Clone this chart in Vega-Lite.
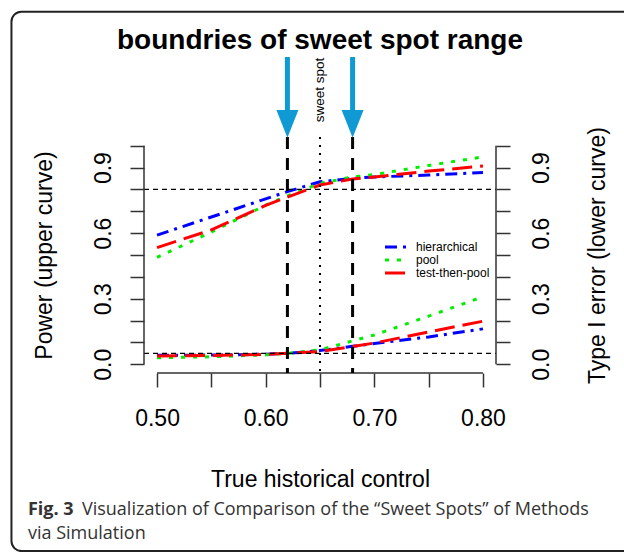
{
  "$schema": "https://vega.github.io/schema/vega-lite/v6.json",
  "width": 352,
  "height": 236,
  "autosize": {"type": "none"},
  "padding": {"left": 144, "top": 137, "right": 128, "bottom": 179},
  "background": "white",
  "config": {"view": {"stroke": null}, "font": "Liberation Sans"},
  "datasets": {
    "curves": [
      {"x": 0.50, "method": "hierarchical", "curve": "power", "value": 0.591},
      {"x": 0.55, "method": "hierarchical", "curve": "power", "value": 0.674},
      {"x": 0.60, "method": "hierarchical", "curve": "power", "value": 0.757},
      {"x": 0.62, "method": "hierarchical", "curve": "power", "value": 0.790},
      {"x": 0.65, "method": "hierarchical", "curve": "power", "value": 0.835},
      {"x": 0.68, "method": "hierarchical", "curve": "power", "value": 0.851},
      {"x": 0.70, "method": "hierarchical", "curve": "power", "value": 0.857},
      {"x": 0.75, "method": "hierarchical", "curve": "power", "value": 0.866},
      {"x": 0.80, "method": "hierarchical", "curve": "power", "value": 0.877},
      {"x": 0.50, "method": "pool", "curve": "power", "value": 0.489},
      {"x": 0.55, "method": "pool", "curve": "power", "value": 0.605},
      {"x": 0.60, "method": "pool", "curve": "power", "value": 0.728},
      {"x": 0.62, "method": "pool", "curve": "power", "value": 0.770},
      {"x": 0.65, "method": "pool", "curve": "power", "value": 0.828},
      {"x": 0.68, "method": "pool", "curve": "power", "value": 0.857},
      {"x": 0.70, "method": "pool", "curve": "power", "value": 0.868},
      {"x": 0.75, "method": "pool", "curve": "power", "value": 0.910},
      {"x": 0.80, "method": "pool", "curve": "power", "value": 0.949},
      {"x": 0.50, "method": "test-then-pool", "curve": "power", "value": 0.534},
      {"x": 0.55, "method": "test-then-pool", "curve": "power", "value": 0.615},
      {"x": 0.60, "method": "test-then-pool", "curve": "power", "value": 0.727},
      {"x": 0.62, "method": "test-then-pool", "curve": "power", "value": 0.765},
      {"x": 0.65, "method": "test-then-pool", "curve": "power", "value": 0.820},
      {"x": 0.68, "method": "test-then-pool", "curve": "power", "value": 0.848},
      {"x": 0.70, "method": "test-then-pool", "curve": "power", "value": 0.857},
      {"x": 0.75, "method": "test-then-pool", "curve": "power", "value": 0.884},
      {"x": 0.80, "method": "test-then-pool", "curve": "power", "value": 0.907},
      {"x": 0.50, "method": "hierarchical", "curve": "type1", "value": 0.041},
      {"x": 0.55, "method": "hierarchical", "curve": "type1", "value": 0.042},
      {"x": 0.60, "method": "hierarchical", "curve": "type1", "value": 0.046},
      {"x": 0.62, "method": "hierarchical", "curve": "type1", "value": 0.050},
      {"x": 0.65, "method": "hierarchical", "curve": "type1", "value": 0.063},
      {"x": 0.68, "method": "hierarchical", "curve": "type1", "value": 0.082},
      {"x": 0.70, "method": "hierarchical", "curve": "type1", "value": 0.095},
      {"x": 0.75, "method": "hierarchical", "curve": "type1", "value": 0.125},
      {"x": 0.80, "method": "hierarchical", "curve": "type1", "value": 0.162},
      {"x": 0.50, "method": "pool", "curve": "type1", "value": 0.030},
      {"x": 0.55, "method": "pool", "curve": "type1", "value": 0.034},
      {"x": 0.60, "method": "pool", "curve": "type1", "value": 0.043},
      {"x": 0.62, "method": "pool", "curve": "type1", "value": 0.050},
      {"x": 0.65, "method": "pool", "curve": "type1", "value": 0.066},
      {"x": 0.68, "method": "pool", "curve": "type1", "value": 0.107},
      {"x": 0.70, "method": "pool", "curve": "type1", "value": 0.134},
      {"x": 0.75, "method": "pool", "curve": "type1", "value": 0.220},
      {"x": 0.80, "method": "pool", "curve": "type1", "value": 0.309},
      {"x": 0.50, "method": "test-then-pool", "curve": "type1", "value": 0.038},
      {"x": 0.55, "method": "test-then-pool", "curve": "type1", "value": 0.040},
      {"x": 0.60, "method": "test-then-pool", "curve": "type1", "value": 0.045},
      {"x": 0.62, "method": "test-then-pool", "curve": "type1", "value": 0.050},
      {"x": 0.65, "method": "test-then-pool", "curve": "type1", "value": 0.058},
      {"x": 0.68, "method": "test-then-pool", "curve": "type1", "value": 0.081},
      {"x": 0.70, "method": "test-then-pool", "curve": "type1", "value": 0.097},
      {"x": 0.75, "method": "test-then-pool", "curve": "type1", "value": 0.148},
      {"x": 0.80, "method": "test-then-pool", "curve": "type1", "value": 0.197}
    ],
    "bounds": [{"b": 0.62}, {"b": 0.68}],
    "targets": [{"t": 0.8}, {"t": 0.05}]
  },
  "layer": [
    {
      "data": {"values": [{}]},
      "mark": {"type": "rect", "filled": false, "stroke": "#222222", "strokeWidth": 2, "cornerRadius": 10},
      "encoding": {
        "x": {"datum": 0.366, "type": "quantitative", "scale": {"domain": [0.488, 0.812], "nice": false, "zero": false}, "axis": null},
        "x2": {"datum": 0.945},
        "y": {"datum": 1.6135, "type": "quantitative", "scale": {"domain": [-0.04, 1.04], "nice": false, "zero": false}, "axis": null},
        "y2": {"datum": -0.855}
      }
    },
    {
      "data": {"name": "curves"},
      "mark": {"type": "line", "strokeWidth": 3},
      "encoding": {
        "x": {
          "field": "x", "type": "quantitative",
          "scale": {"domain": [0.488, 0.812], "nice": false, "zero": false},
          "axis": {
            "orient": "bottom",
            "values": [0.5, 0.55, 0.6, 0.65, 0.7, 0.75, 0.8],
            "domain": false, "grid": false,
            "tickSize": 14, "tickWidth": 1.5, "tickColor": "#333333",
            "labelFont": "Liberation Sans", "labelFontSize": 23, "labelColor": "#000000",
            "labelPadding": 38, "labelBaseline": "alphabetic", "labelAlign": "center",
            "labelFlush": false, "labelOverlap": false, "labelBound": false,
            "labelExpr": "round(datum.value*100) % 10 == 0 ? format(datum.value, '.2f') : ''",
            "title": "True historical control",
            "titleFont": "Liberation Sans", "titleFontSize": 23, "titleFontWeight": "normal", "titleColor": "#000000",
            "titleX": 176, "titleY": 113, "titleBaseline": "alphabetic", "titleAlign": "center", "titleAngle": 0
          }
        },
        "y": {
          "field": "value", "type": "quantitative",
          "scale": {"domain": [-0.04, 1.04], "nice": false, "zero": false},
          "axis": {
            "orient": "left",
            "values": [0, 0.1, 0.2, 0.3, 0.4, 0.5, 0.6, 0.7, 0.8, 0.9, 1.0],
            "domain": false, "grid": false,
            "tickSize": 14, "tickWidth": 1.5, "tickColor": "#333333",
            "labelFont": "Liberation Sans", "labelFontSize": 23, "labelColor": "#000000",
            "labelAngle": 270, "labelPadding": 20, "labelBaseline": "alphabetic", "labelAlign": "center",
            "labelFlush": false, "labelOverlap": false, "labelBound": false,
            "labelExpr": "(round(datum.value*10) % 3 == 0 && datum.value < 0.95) ? format(datum.value, '.1f') : ''",
            "title": "Power (upper curve)",
            "titleFont": "Liberation Sans", "titleFontSize": 23, "titleFontWeight": "normal", "titleColor": "#000000",
            "titleAngle": 270, "titleX": -92.5, "titleY": 118, "titleBaseline": "alphabetic", "titleAlign": "center"
          }
        },
        "color": {
          "field": "method", "type": "nominal",
          "scale": {"domain": ["hierarchical", "pool", "test-then-pool"], "range": ["#0000ff", "#00ee00", "#ff0000"]},
          "legend": {
            "title": null, "orient": "none", "legendX": 245, "legendY": 103,
            "symbolType": "M-2,0L2,0", "symbolSize": 121, "symbolStrokeWidth": 3,
            "labelFont": "Liberation Sans", "labelFontSize": 12, "labelColor": "#000000",
            "labelOffset": 13, "rowPadding": 0, "padding": 0
          }
        },
        "strokeDash": {
          "field": "method", "type": "nominal",
          "scale": {"domain": ["hierarchical", "pool", "test-then-pool"], "range": [[12, 6, 3, 6], [4, 8], [20, 8]]},
          "legend": {
            "title": null, "orient": "none", "legendX": 245, "legendY": 103,
            "symbolType": "M-2,0L2,0", "symbolSize": 121, "symbolStrokeWidth": 3,
            "labelFont": "Liberation Sans", "labelFontSize": 12, "labelColor": "#000000",
            "labelOffset": 13, "rowPadding": 0, "padding": 0
          }
        },
        "detail": {"field": "curve"}
      }
    },
    {
      "data": {"name": "targets"},
      "mark": {"type": "rule", "color": "#000000", "strokeWidth": 1.2, "strokeDash": [5, 4]},
      "encoding": {
        "x": {"datum": 0.488, "type": "quantitative", "scale": {"domain": [0.488, 0.812], "nice": false, "zero": false}, "axis": null},
        "x2": {"datum": 0.812},
        "y": {
          "field": "t", "type": "quantitative",
          "scale": {"domain": [-0.04, 1.04], "nice": false, "zero": false},
          "axis": {
            "orient": "right",
            "values": [0, 0.1, 0.2, 0.3, 0.4, 0.5, 0.6, 0.7, 0.8, 0.9, 1.0],
            "domain": false, "grid": false,
            "tickSize": 14, "tickWidth": 1.5, "tickColor": "#333333",
            "labelFont": "Liberation Sans", "labelFontSize": 23, "labelColor": "#000000",
            "labelAngle": 270, "labelPadding": 38, "labelBaseline": "alphabetic", "labelAlign": "center",
            "labelFlush": false, "labelOverlap": false, "labelBound": false,
            "labelExpr": "(round(datum.value*10) % 3 == 0 && datum.value < 0.95) ? format(datum.value, '.1f') : ''",
            "title": "Type I error (lower curve)",
            "titleFont": "Liberation Sans", "titleFontSize": 23, "titleFontWeight": "normal", "titleColor": "#000000",
            "titleAngle": 270, "titleX": 108.5, "titleY": 118, "titleBaseline": "alphabetic", "titleAlign": "center"
          }
        }
      }
    },
    {
      "data": {"values": [{}]},
      "mark": {"type": "rule", "color": "#333333", "strokeWidth": 1.5},
      "encoding": {
        "x": {"datum": 0.488, "type": "quantitative", "scale": {"domain": [0.488, 0.812], "nice": false, "zero": false}, "axis": null},
        "y": {"datum": 0, "type": "quantitative", "scale": {"domain": [-0.04, 1.04], "nice": false, "zero": false}, "axis": null},
        "y2": {"datum": 1}
      }
    },
    {
      "data": {"values": [{}]},
      "mark": {"type": "rule", "color": "#333333", "strokeWidth": 1.5},
      "encoding": {
        "x": {"datum": 0.812, "type": "quantitative", "scale": {"domain": [0.488, 0.812], "nice": false, "zero": false}, "axis": null},
        "y": {"datum": 0, "type": "quantitative", "scale": {"domain": [-0.04, 1.04], "nice": false, "zero": false}, "axis": null},
        "y2": {"datum": 1}
      }
    },
    {
      "data": {"values": [{}]},
      "mark": {"type": "rule", "color": "#333333", "strokeWidth": 1.5},
      "encoding": {
        "x": {"datum": 0.5, "type": "quantitative", "scale": {"domain": [0.488, 0.812], "nice": false, "zero": false}, "axis": null},
        "x2": {"datum": 0.8},
        "y": {"datum": -0.04, "type": "quantitative", "scale": {"domain": [-0.04, 1.04], "nice": false, "zero": false}, "axis": null}
      }
    },
    {
      "data": {"name": "bounds"},
      "mark": {"type": "rule", "color": "#000000", "strokeWidth": 3, "strokeDash": [12, 9]},
      "encoding": {
        "x": {"field": "b", "type": "quantitative", "scale": {"domain": [0.488, 0.812], "nice": false, "zero": false}, "axis": null},
        "y": {"datum": 1.04, "type": "quantitative", "scale": {"domain": [-0.04, 1.04], "nice": false, "zero": false}, "axis": null},
        "y2": {"datum": -0.04}
      }
    },
    {
      "data": {"values": [{}]},
      "mark": {"type": "rule", "color": "#000000", "strokeWidth": 2, "strokeDash": [2, 6]},
      "encoding": {
        "x": {"datum": 0.65, "type": "quantitative", "scale": {"domain": [0.488, 0.812], "nice": false, "zero": false}, "axis": null},
        "y": {"datum": 1.04, "type": "quantitative", "scale": {"domain": [-0.04, 1.04], "nice": false, "zero": false}, "axis": null},
        "y2": {"datum": -0.04}
      }
    },
    {
      "data": {"name": "bounds"},
      "mark": {"type": "rule", "color": "#109ad3", "strokeWidth": 5},
      "encoding": {
        "x": {"field": "b", "type": "quantitative", "scale": {"domain": [0.488, 0.812], "nice": false, "zero": false}, "axis": null},
        "y": {"datum": 1.406, "type": "quantitative", "scale": {"domain": [-0.04, 1.04], "nice": false, "zero": false}, "axis": null},
        "y2": {"datum": 1.15}
      }
    },
    {
      "data": {"name": "bounds"},
      "mark": {"type": "point", "shape": "M-1,-1.27L1,-1.27L0,1.27Z", "size": 484, "filled": true, "color": "#109ad3", "opacity": 1, "strokeWidth": 0},
      "encoding": {
        "x": {"field": "b", "type": "quantitative", "scale": {"domain": [0.488, 0.812], "nice": false, "zero": false}, "axis": null},
        "y": {"datum": 1.1, "type": "quantitative", "scale": {"domain": [-0.04, 1.04], "nice": false, "zero": false}, "axis": null}
      }
    },
    {
      "data": {"values": [{}]},
      "mark": {"type": "text", "text": "sweet spot", "angle": 270, "fontSize": 13.5, "font": "Liberation Sans", "align": "center", "baseline": "middle", "color": "#000000"},
      "encoding": {
        "x": {"datum": 0.65, "type": "quantitative", "scale": {"domain": [0.488, 0.812], "nice": false, "zero": false}, "axis": null},
        "y": {"datum": 1.255, "type": "quantitative", "scale": {"domain": [-0.04, 1.04], "nice": false, "zero": false}, "axis": null}
      }
    },
    {
      "data": {"values": [{}]},
      "mark": {"type": "text", "text": "boundries of sweet spot range", "fontSize": 28, "fontWeight": "bold", "font": "Liberation Sans", "align": "center", "baseline": "alphabetic", "color": "#000000"},
      "encoding": {
        "x": {"datum": 0.65, "type": "quantitative", "scale": {"domain": [0.488, 0.812], "nice": false, "zero": false}, "axis": null},
        "y": {"datum": 1.4427, "type": "quantitative", "scale": {"domain": [-0.04, 1.04], "nice": false, "zero": false}, "axis": null}
      }
    },
    {
      "data": {"values": [{}]},
      "mark": {"type": "text", "text": "Fig. 3", "fontSize": 18, "fontWeight": "bold", "font": "Open Sans", "align": "left", "baseline": "alphabetic", "color": "#333333"},
      "encoding": {
        "x": {"datum": 0.3812, "type": "quantitative", "scale": {"domain": [0.488, 0.812], "nice": false, "zero": false}, "axis": null},
        "y": {"datum": -0.69, "type": "quantitative", "scale": {"domain": [-0.04, 1.04], "nice": false, "zero": false}, "axis": null}
      }
    },
    {
      "data": {"values": [{}]},
      "mark": {"type": "text", "text": "Visualization of Comparison of the “Sweet Spots” of Methods", "fontSize": 18, "font": "Open Sans", "align": "left", "baseline": "alphabetic", "color": "#333333"},
      "encoding": {
        "x": {"datum": 0.4309, "type": "quantitative", "scale": {"domain": [0.488, 0.812], "nice": false, "zero": false}, "axis": null},
        "y": {"datum": -0.69, "type": "quantitative", "scale": {"domain": [-0.04, 1.04], "nice": false, "zero": false}, "axis": null}
      }
    },
    {
      "data": {"values": [{}]},
      "mark": {"type": "text", "text": "via Simulation", "fontSize": 18, "font": "Open Sans", "align": "left", "baseline": "alphabetic", "color": "#333333"},
      "encoding": {
        "x": {"datum": 0.3812, "type": "quantitative", "scale": {"domain": [0.488, 0.812], "nice": false, "zero": false}, "axis": null},
        "y": {"datum": -0.7998, "type": "quantitative", "scale": {"domain": [-0.04, 1.04], "nice": false, "zero": false}, "axis": null}
      }
    }
  ],
  "resolve": {"axis": {"x": "independent", "y": "independent"}}
}
